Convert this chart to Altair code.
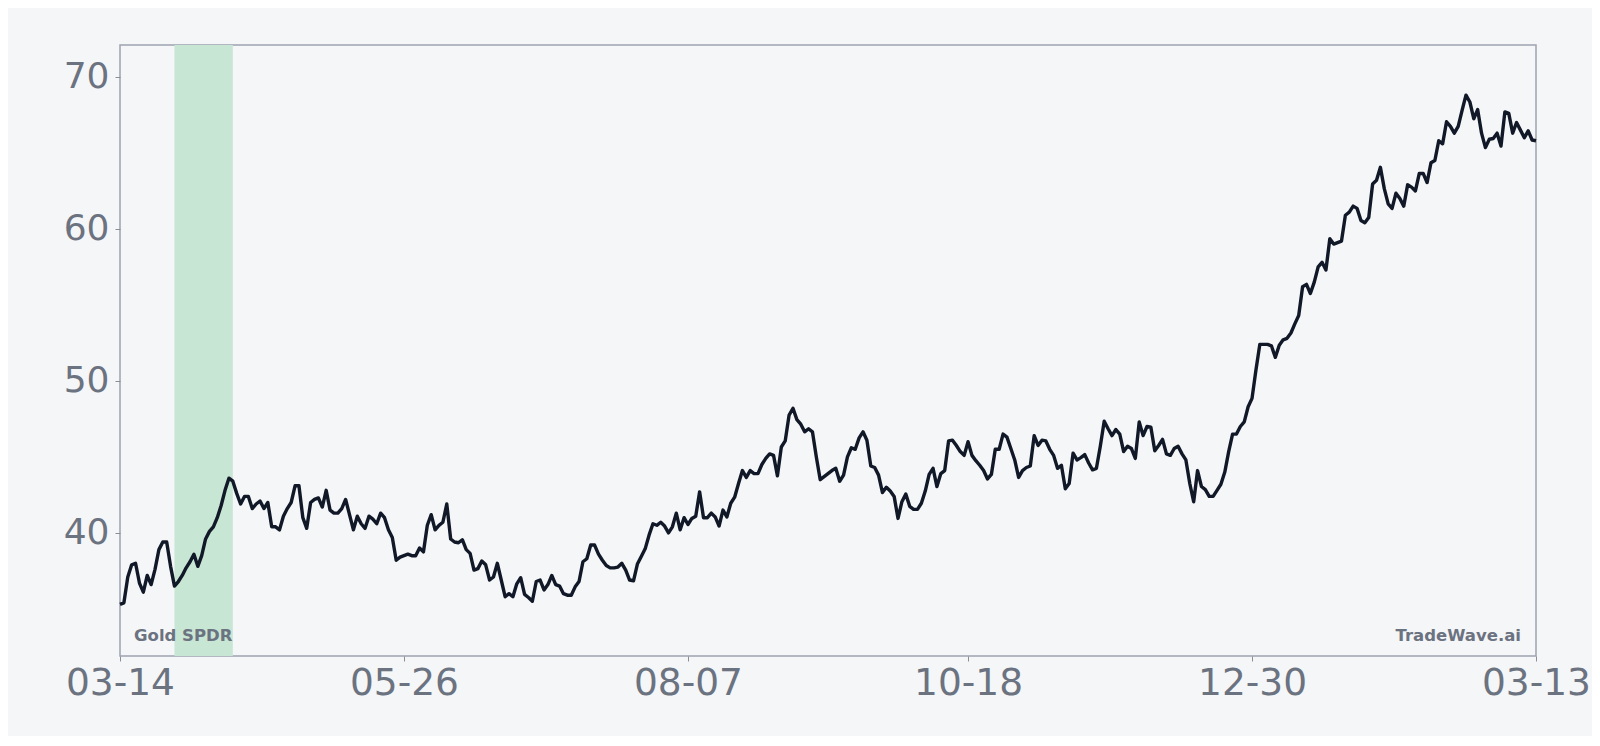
import altair as alt
import pandas as pd

start_date = "2024-03-14"

price = [
    35.3, 35.4, 37.1, 37.9, 38.0, 36.7, 36.1, 37.2, 36.6, 37.6,
    38.9, 39.4, 39.4, 37.8, 36.5, 36.8, 37.2, 37.7, 38.1, 38.6,
    37.8, 38.5, 39.6, 40.1, 40.4, 41.0, 41.8, 42.8, 43.6, 43.4,
    42.6, 41.9, 42.4, 42.4, 41.6, 41.9, 42.1, 41.6, 42.0, 40.4,
    40.4, 40.2, 41.1, 41.6, 42.0, 43.1, 43.1, 41.0, 40.3, 42.0,
    42.2, 42.3, 41.7, 42.8, 41.5, 41.3, 41.3, 41.6, 42.2, 41.2,
    40.2, 41.1,
    40.6, 40.3, 41.1, 40.9, 40.6, 41.3, 41.0, 40.2, 39.7, 38.2,
    38.4, 38.5, 38.6, 38.5, 38.5, 39.0, 38.75, 40.5, 41.2, 40.2,
    40.5, 40.7, 41.9, 39.6, 39.4, 39.35, 39.55, 38.9, 38.65, 37.55,
    37.65, 38.15, 37.9, 36.9, 37.1, 38.0, 36.9, 35.8, 36.0, 35.8,
    36.65, 37.05, 35.95, 35.75, 35.5, 36.8, 36.9, 36.25, 36.6, 37.2,
    36.6, 36.5, 36.0, 35.9, 35.9, 36.45, 36.8, 38.1, 38.3, 39.2,
    39.2, 38.6, 38.2, 37.85, 37.7,
    37.7, 37.75, 38.0, 37.55, 36.9, 36.85, 37.95, 38.45, 38.95, 39.85,
    40.6, 40.5, 40.7, 40.45, 40.0, 40.4, 41.3, 40.2, 41.0, 40.55,
    40.95, 41.1, 42.7, 41.0, 41.0, 41.3, 41.05, 40.45, 41.5, 41.05,
    41.95, 42.35, 43.25, 44.1, 43.65, 44.1, 43.9, 43.9, 44.5, 44.9,
    45.2, 45.1, 43.75, 45.65, 46.05, 47.75, 48.2, 47.45, 47.15, 46.65,
    46.85, 46.65, 45.0, 43.5, 43.7, 43.9, 44.1, 44.25, 43.4, 43.8,
    45.0, 45.6, 45.5, 46.25,
    46.65, 46.1, 44.4, 44.3, 43.8, 42.65, 43.0, 42.75, 42.4, 40.95,
    42.05, 42.55, 41.75, 41.55, 41.55, 41.95, 42.75, 43.85, 44.25, 43.05,
    43.9, 44.1, 46.05, 46.1, 45.75, 45.35, 45.1, 46.0, 45.1, 44.75,
    44.45, 44.1, 43.55, 43.85, 45.5, 45.5, 46.5, 46.3, 45.55, 44.8,
    43.65, 44.1, 44.3, 44.4, 46.4, 45.75, 46.1, 46.05, 45.5, 45.1,
    44.25, 44.45, 42.9, 43.25, 45.25, 44.8, 44.95, 45.15, 44.6, 44.15,
    44.25, 45.7, 47.35, 46.85,
    46.4, 46.8, 46.5, 45.35, 45.7, 45.55, 44.9, 47.3, 46.4, 47.0,
    46.95, 45.4, 45.75, 46.15, 45.2, 45.1, 45.55, 45.7, 45.2, 44.8,
    43.25, 42.05, 44.1, 43.05, 42.85, 42.4, 42.4, 42.8, 43.2, 44.0,
    45.35, 46.5, 46.5, 47.0, 47.3, 48.3, 48.85, 50.7, 52.4, 52.4,
    52.4, 52.3, 51.55, 52.35, 52.7, 52.8, 53.15, 53.75, 54.3, 56.2,
    56.35, 55.75, 56.5, 57.5,
    57.8, 57.3, 59.35, 59.0, 59.1, 59.2, 60.9, 61.1, 61.5, 61.35,
    60.55, 60.4, 60.75, 62.95, 63.2, 64.05, 62.65, 61.65, 61.35, 62.35,
    62.0, 61.5, 62.9, 62.75, 62.5, 63.65, 63.65, 63.05, 64.35, 64.5,
    65.8, 65.6, 67.05, 66.75, 66.3, 66.75, 67.8, 68.8, 68.35, 67.25,
    67.85, 66.3, 65.35, 65.9, 65.95, 66.3, 65.45, 67.7, 67.6, 66.3,
    67.0, 66.5, 66.0, 66.45, 65.85, 65.8,
]

tick_dates = ["2024-03-14", "2024-05-26", "2024-08-07", "2024-10-18", "2024-12-30", "2025-03-13"]
y_ticks = [40, 50, 60, 70]
band_start = ["2024-03-28"]
band_end = ["2024-04-12"]
left_label = ["Gold SPDR"]
right_label = ["TradeWave.ai"]

dates = pd.date_range(start_date, periods=len(price), freq="D").strftime("%Y-%m-%d")
df = pd.DataFrame({"date": list(dates), "price": price})


def ms(s):
    return int(pd.Timestamp(s, tz="UTC").timestamp() * 1000)


W, H = 1416, 611
GREY = "#6b7280"
FONT = "DejaVu Sans"

xscale = alt.Scale(type="utc", domain=[ms(tick_dates[0]), ms(tick_dates[-1])])
yscale = alt.Scale(domain=[31.9, 72.1], nice=False, zero=False)

band = alt.Chart(pd.DataFrame({"start": band_start, "end": band_end})).mark_rect(
    color="#c8e6d4"
).encode(
    x=alt.X("start:T", scale=xscale),
    x2="end:T",
    y=alt.value(0),
    y2=alt.value(H),
)

line = alt.Chart(df).mark_line(color="#111827", strokeWidth=3.4, strokeJoin="round").encode(
    x=alt.X(
        "date:T",
        scale=xscale,
        title=None,
        axis=alt.Axis(
            values=[ms(d) for d in tick_dates],
            labelExpr="utcFormat(datum.value, '%m-%d')",
            labelPadding=3,
            labelFontSize=37.5,
        ),
    ),
    y=alt.Y(
        "price:Q",
        scale=yscale,
        title=None,
        axis=alt.Axis(values=y_ticks, labelPadding=6),
    ),
)

left = alt.Chart(pd.DataFrame({"label": left_label})).mark_text(
    align="left", baseline="alphabetic", fontSize=16.5, fontWeight="bold", color=GREY, font=FONT
).encode(text="label:N", x=alt.value(14), y=alt.value(596))

right = alt.Chart(pd.DataFrame({"label": right_label})).mark_text(
    align="right", baseline="alphabetic", fontSize=16.5, fontWeight="bold", color=GREY, font=FONT
).encode(text="label:N", x=alt.value(W - 15), y=alt.value(596))

chart = (
    alt.layer(band, line, left, right)
    .properties(
        width=W,
        height=H,
        background="#f5f6f8",
        padding={"left": 112, "top": 37, "right": 56, "bottom": 80},
        autosize=alt.AutoSizeParams(type="none"),
    )
    .configure_view(stroke="#9ca3af", strokeWidth=1.5)
    .configure_axis(
        labelFont=FONT,
        labelFontSize=36,
        labelColor=GREY,
        tickColor="#8a8f99",
        tickSize=5,
        domain=False,
        grid=False,
        labelFlush=False,
        labelOverlap=False,
    )
)

chart.save("out.html", embed_options={"renderer": "svg", "actions": False})
